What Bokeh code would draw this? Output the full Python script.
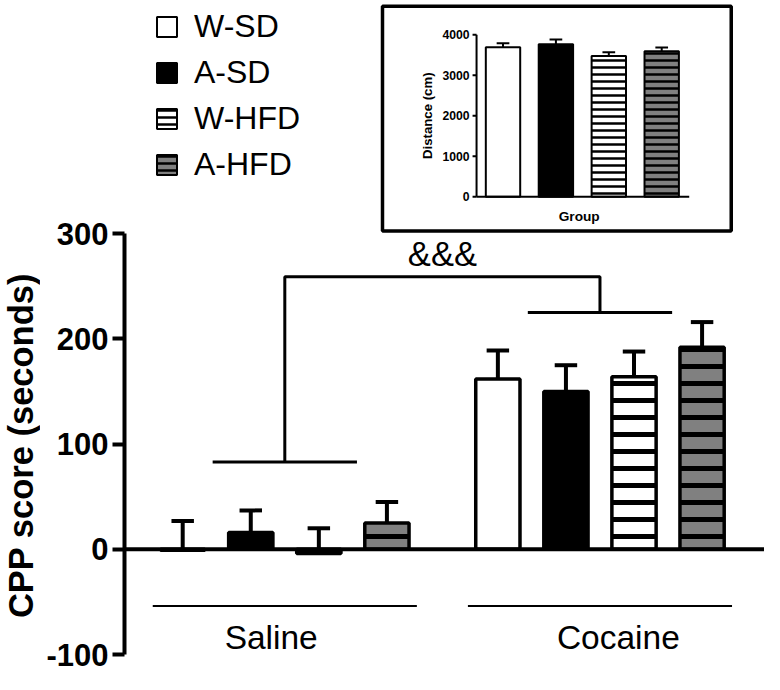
import math
from bokeh.plotting import figure
from bokeh.layouts import row
from bokeh.models import Range1d, FixedTicker, Span, Legend, LegendItem
from bokeh.core.properties import value
from bokeh.embed import file_html
from bokeh.resources import INLINE

groups = ["Saline", "Cocaine"]
series = ["W-SD", "A-SD", "W-HFD", "A-HFD"]

# CPP score (seconds), one value per group: [Saline, Cocaine]
w_sd = [-1, 162]
a_sd = [16, 150]
w_hfd = [-4, 164]
a_hfd = [25, 192]
w_sd_err = [28, 27]
a_sd_err = [21, 25]
w_hfd_err = [24, 24]
a_hfd_err = [20, 24]

# inset: distance travelled (cm) per series
distance = [3690, 3760, 3470, 3590]
distance_err = [95, 120, 95, 95]

cpp_ticks = [-100, 0, 100, 200, 300]
distance_ticks = [0, 1000, 2000, 3000, 4000]

FONT = "Liberation Sans"
fills = ["white", "black", "white", "#808080"]
hatches = [None, None, "horizontal_line", "horizontal_line"]

# narrow strip on the left that only holds the y axis title
t = figure(width=40, height=674, output_backend="svg", toolbar_location=None,
           x_range=Range1d(0, 40), y_range=Range1d(0, 674),
           x_axis_location=None, y_axis_location=None, min_border=0)
t.outline_line_color = None
t.grid.visible = False
t.text(x=[20.5], y=[229], text=["CPP score (seconds)"], angle=math.pi / 2,
       text_align="center", text_baseline="middle", text_font=value(FONT),
       text_font_style="bold", text_font_size="34.5px", text_color="black")

p = figure(width=724, height=674, output_backend="svg", toolbar_location=None,
           x_range=Range1d(-0.855, 8.547), y_range=Range1d(-119.0, 521.7),
           x_axis_location=None, y_axis_location="left",
           min_border_left=84, min_border_right=0, min_border_top=0, min_border_bottom=0)
p.outline_line_color = None
p.grid.visible = False

# inset lives in the same frame on its own ranges
p.extra_x_ranges = {"ix": Range1d(-7.155, 4.943)}
p.extra_y_ranges = {"iy": Range1d(-11783, 4842)}

ax = p.yaxis[0]
ax.bounds = (cpp_ticks[0], cpp_ticks[-1])
ax.ticker = FixedTicker(ticks=cpp_ticks)
ax.major_label_overrides = {tk: str(tk) for tk in cpp_ticks}
ax.axis_line_width = 4
ax.major_tick_line_width = 4
ax.major_tick_out = 12
ax.major_tick_in = 0
ax.minor_tick_line_color = None
ax.major_label_text_font = FONT
ax.major_label_text_font_style = "bold"
ax.major_label_text_font_size = "31px"
ax.major_label_text_color = "black"
ax.major_label_standoff = 4

# main bars
step = 4.63
means = [w_sd, a_sd, w_hfd, a_hfd]
errs = [w_sd_err, a_sd_err, w_hfd_err, a_hfd_err]
for i in range(len(series)):
    xs = [g * step + i for g in range(len(groups))]
    tops = [m + e for m, e in zip(means[i], errs[i])]
    p.segment(xs, means[i], xs, tops, line_color="black", line_width=4)
    p.segment([x - 0.165 for x in xs], tops, [x + 0.165 for x in xs], tops,
              line_color="black", line_width=4)
    p.vbar(x=xs, top=means[i], bottom=0, width=0.65, fill_color=fills[i],
           line_color="black", line_width=3.5, hatch_pattern=hatches[i],
           hatch_color="black", hatch_scale=17, hatch_weight=5)

p.add_layout(Span(location=0, dimension="width", line_color="black", line_width=4))

# group underlines and labels
centers = [g * step + 1.5 for g in range(len(groups))]
label_dx = [-0.2, 0.27]
p.segment([c - 1.94 for c in centers], [-54] * 2, [c + 1.94 for c in centers], [-54] * 2,
          line_color="black", line_width=2)
p.text(x=[c + d for c, d in zip(centers, label_dx)], y=[-84] * 2, text=groups,
       text_font=value(FONT), text_font_size="33.5px", text_align="center",
       text_baseline="middle", text_color="black")

# significance bracket
c1, c2 = centers
p.multi_line(xs=[[c1 - 1.06, c1 + 1.06], [c1, c1, c2, c2], [c2 - 1.06, c2 + 1.06]],
             ys=[[83, 83], [83, 259, 259, 225], [225, 225]],
             line_color="black", line_width=3)
p.text(x=[(c1 + c2) / 2], y=[281], text=["&&&"], text_font=value(FONT),
       text_font_size="34.5px", text_align="center", text_baseline="middle",
       text_color="black")

# inset
R = dict(x_range_name="ix", y_range_name="iy")
p.quad(left=-2.278, right=4.314, top=4700, bottom=-844, fill_color="white",
       line_color="black", line_width=3.5, **R)
inset_bars = []
for i in range(len(distance)):
    top = distance[i] + distance_err[i]
    p.segment([i], [distance[i]], [i], [top], line_color="black", line_width=2, **R)
    p.segment([i - 0.12], [top], [i + 0.12], [top], line_color="black", line_width=2, **R)
    r = p.vbar(x=[i], top=[distance[i]], bottom=0, width=0.65, fill_color=fills[i],
               line_color="black", line_width=2, hatch_pattern=hatches[i],
               hatch_color="black", hatch_scale=7, hatch_weight=2.5, **R)
    inset_bars.append(r)

axis_x = -0.5
p.segment([axis_x], [distance_ticks[0]], [axis_x], [distance_ticks[-1]],
          line_color="black", line_width=2, **R)
p.segment([axis_x], [0], [len(distance) - 1 + 0.52], [0], line_color="black", line_width=2, **R)
p.ray(x=[axis_x] * len(distance_ticks), y=distance_ticks, length=4, length_units="screen",
      angle=math.pi, line_color="black", line_width=2, **R)
p.text(x=[axis_x] * len(distance_ticks), y=distance_ticks, text=[str(tk) for tk in distance_ticks],
       x_offset=-7, text_align="right", text_baseline="middle", text_font=value(FONT),
       text_font_style="bold", text_font_size="12.2px", text_color="black", **R)
p.text(x=[-1.43], y=[2000], text=["Distance (cm)"], angle=math.pi / 2, text_align="center",
       text_baseline="middle", text_font=value(FONT), text_font_style="bold",
       text_font_size="13.2px", text_color="black", **R)
p.text(x=[(len(distance) - 1) / 2 - 0.06], y=[-483], text=["Group"], text_align="center",
       text_baseline="middle", text_font=value(FONT), text_font_style="bold",
       text_font_size="13.7px", text_color="black", **R)

legend = Legend(items=[LegendItem(label=s, renderers=[r]) for s, r in zip(series, inset_bars)],
                location=(30, 491), border_line_color=None, background_fill_alpha=0,
                padding=0, margin=0, label_standoff=15, glyph_width=25, glyph_height=25,
                label_height=34, spacing=9, label_text_font=FONT,
                label_text_font_size="32px", label_text_color="black")
p.add_layout(legend)

layout = row(t, p)
open("out.html", "w").write(file_html(layout, INLINE))
